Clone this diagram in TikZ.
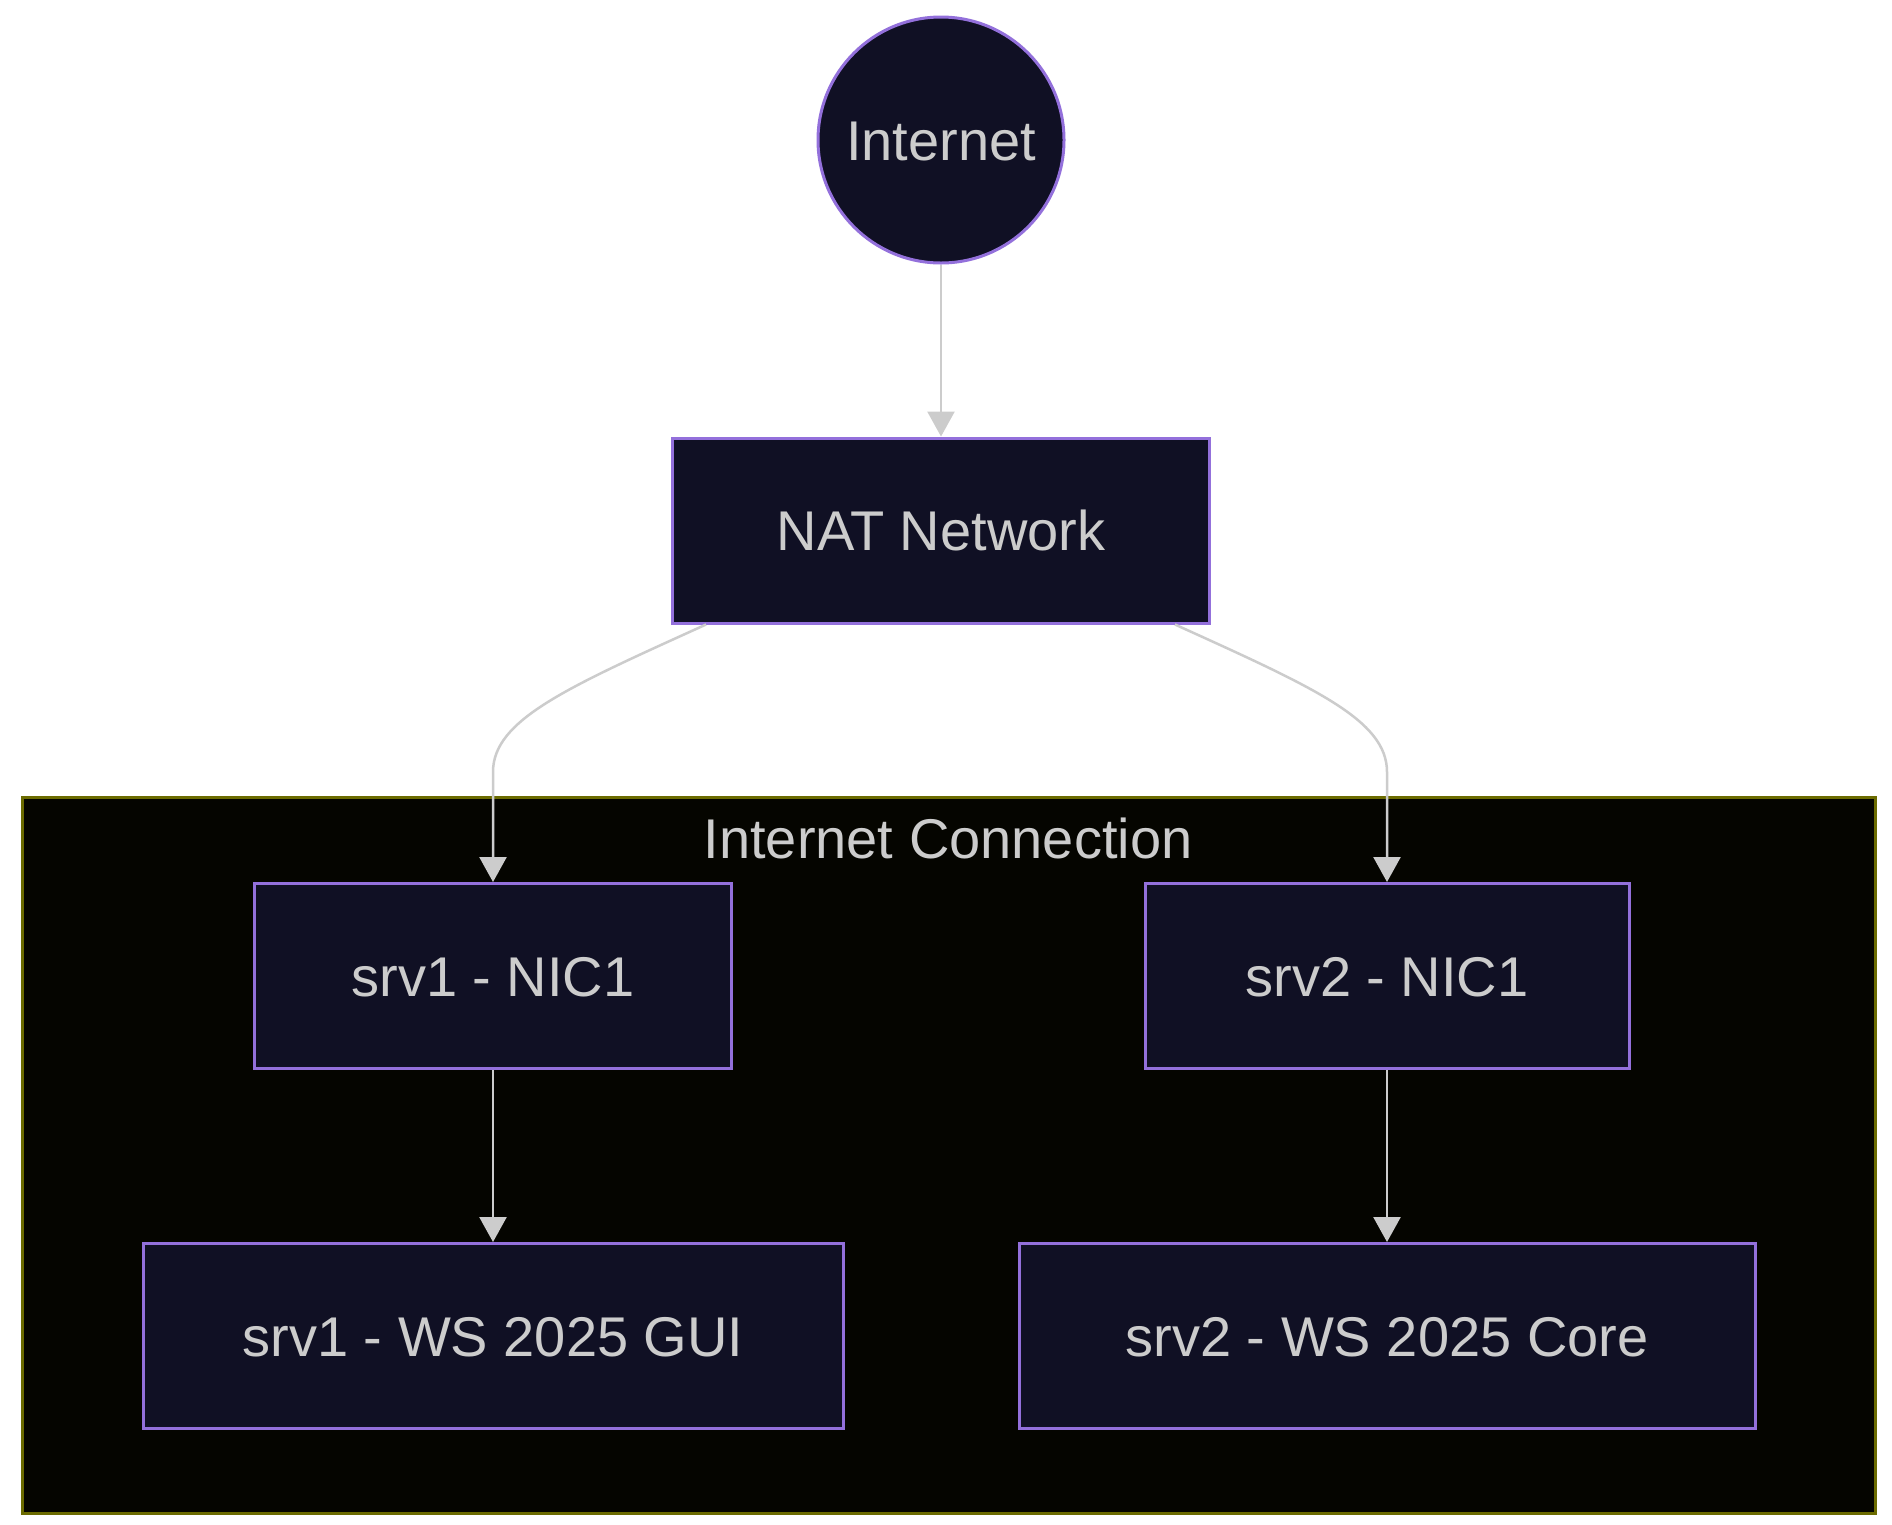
\documentclass[tikz,border=0pt]{standalone}
\usepackage{fontspec}
\setmainfont{Liberation Sans}
\usetikzlibrary{arrows.meta,calc}
\definecolor{nodefill}{HTML}{101024}
\definecolor{nodeline}{HTML}{9370DB}
\definecolor{clfill}{HTML}{050500}
\definecolor{clline}{HTML}{6B6B00}
\definecolor{txt}{HTML}{CCCCCC}
\definecolor{edge}{HTML}{CCCCCC}
\begin{document}
\begin{tikzpicture}[x=1pt,y=-1pt,
  every node/.style={font=\fontsize{56pt}{60pt}\selectfont, text=txt, inner sep=0pt, text height=40pt, text depth=0pt},
  boxnode/.style={draw=nodeline, fill=nodefill, line width=3pt, rectangle, minimum height=185pt},
  circnode/.style={draw=nodeline, fill=nodefill, line width=3pt, circle, minimum size=246pt},
  clusterbox/.style={draw=clline, fill=clfill, line width=3pt, rectangle},
  link/.style={draw=edge, line width=2.5pt, -{Triangle[length=25pt,width=27pt]}}
]
\useasboundingbox (0,0) rectangle (1892,1524);
\fill[white] (0,0) rectangle (1892,1524);

% cluster
\node[clusterbox, minimum width=1853pt, minimum height=716pt] (cl) at (949,1155.5) {};
\node[anchor=base] (cllabel) at (948,858) {Internet Connection};

% nodes
\node[circnode] (inet) at (941,140) {Internet};
\node[boxnode, minimum width=537pt] (nat) at (941,530.5) {NAT Network};
\node[boxnode, minimum width=477pt] (s1n) at (493,976) {srv1 - NIC1};
\node[boxnode, minimum width=484pt] (s2n) at (1387,976) {srv2 - NIC1};
\node[boxnode, minimum width=700pt] (s1g) at (493,1336) {srv1 - WS 2025 GUI};
\node[boxnode, minimum width=736pt] (s2g) at (1387,1336) {srv2 - WS 2025 Core};

\coordinate (a1) at ($(nat.south)+(-235,0)$);
\coordinate (a2) at ($(nat.south)+(234,0)$);
\coordinate (b1) at ($(s1n.north)+(0,-110)$);
\coordinate (b2) at ($(s2n.north)+(0,-110)$);

% edges
\draw[link] (inet.south) -- (nat.north);
\draw[link] (a1) .. controls (566,688) and (493,720) .. (b1) -- (s1n.north);
\draw[link] (a2) .. controls (1315,688) and (1387,720) .. (b2) -- (s2n.north);
\draw[link] (s1n.south) -- (s1g.north);
\draw[link] (s2n.south) -- (s2g.north);
\end{tikzpicture}
\end{document}
